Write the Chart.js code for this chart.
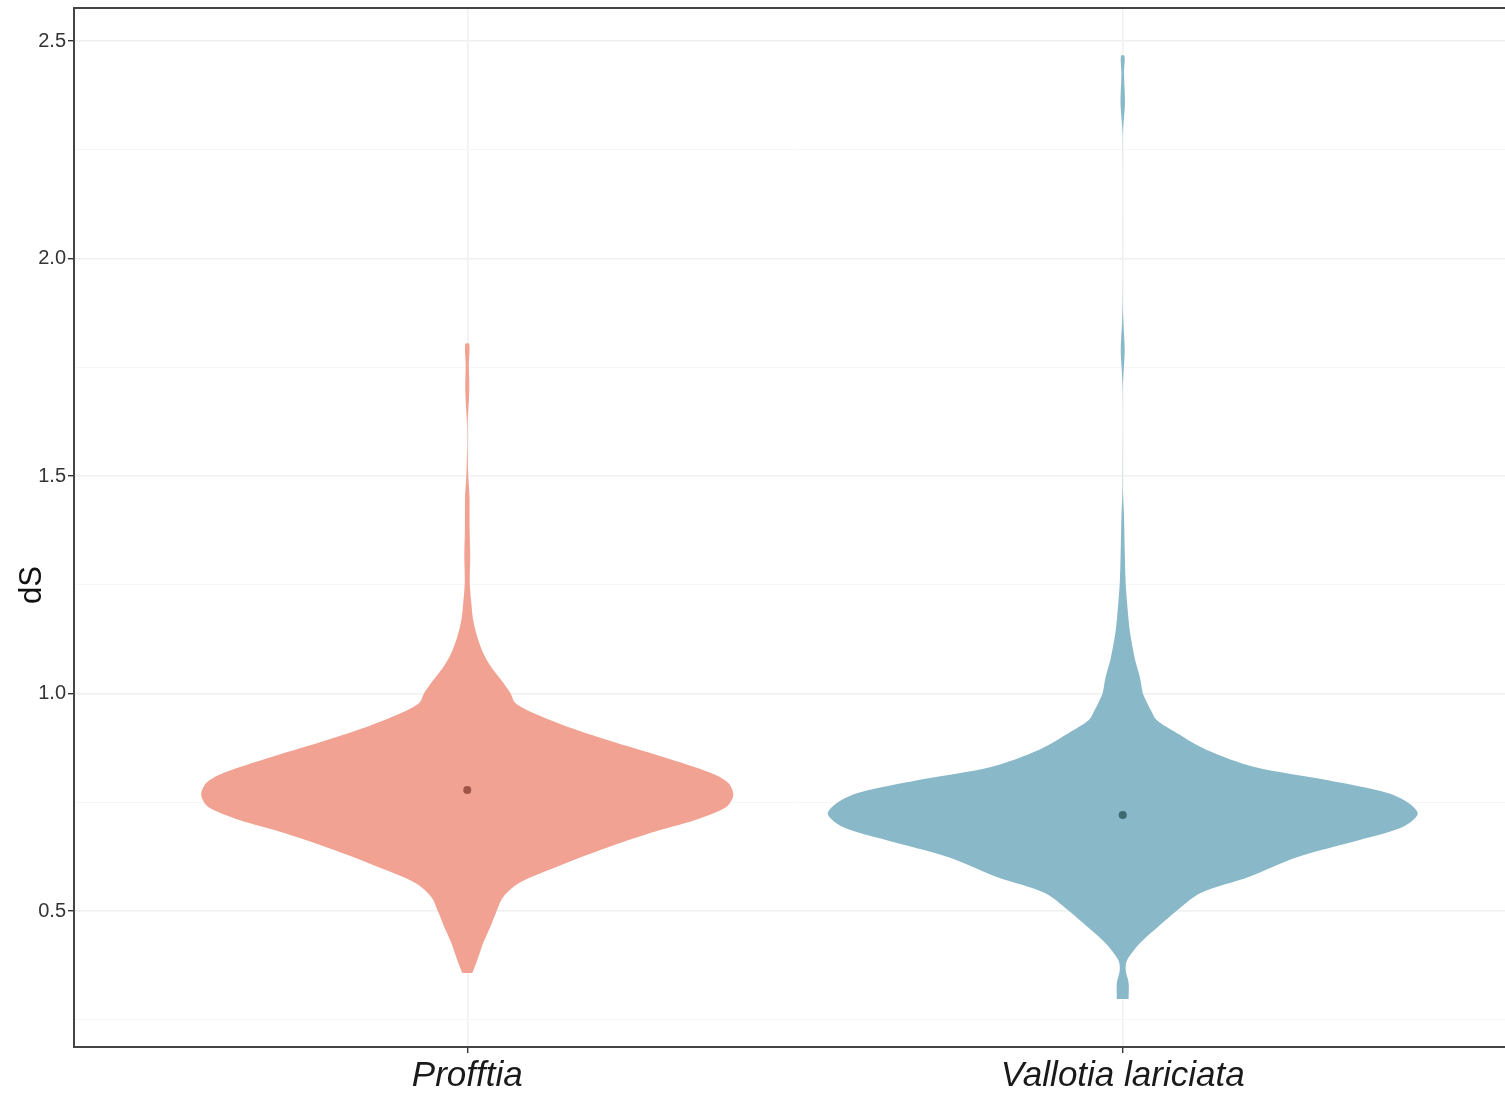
<!DOCTYPE html>
<html>
<head>
<meta charset="utf-8">
<title>dS violin</title>
<script src="https://cdn.jsdelivr.net/npm/chart.js@4.4.1/dist/chart.umd.min.js"></script>
<style>
  html, body { margin: 0; padding: 0; background: #fff; overflow: hidden; }
  #wrap { width: 1505px; height: 1094px; overflow: hidden; }
</style>
</head>
<body>
<div id="wrap"><canvas id="violin" width="1520" height="1094"></canvas></div>
<script>
// ---- data ----
const categories = ['Profftia', 'Vallotia lariciata'];

// dS levels (bottom -> top) and relative density (1 = widest violin)
const profftiaDS = [0.3575, 0.3874, 0.4264, 0.4632, 0.4954, 0.5322, 0.5644, 0.6011, 0.6402, 0.6793,
  0.7092, 0.7391, 0.7667, 0.7943, 0.8172, 0.8540, 0.8931, 0.9230, 0.9552, 0.9782,
  1.0011, 1.0310, 1.0609, 1.0931, 1.1299, 1.1690, 1.1989, 1.2540, 1.3138, 1.3759,
  1.4517, 1.4977, 1.5598, 1.6172, 1.6977, 1.7552, 1.8034];
const profftiaDensity = [0.017, 0.034, 0.054, 0.078, 0.097, 0.122, 0.176, 0.302, 0.451, 0.620,
  0.773, 0.878, 0.902, 0.885, 0.827, 0.664, 0.475, 0.342, 0.224, 0.163,
  0.146, 0.115, 0.081, 0.054, 0.034, 0.020, 0.015, 0.0085, 0.010, 0.008,
  0.0075, 0.0034, 0.001, 0.001, 0.0068, 0.0054, 0.0068];

const vallotiaDS = [0.2977, 0.3345, 0.3644, 0.3874, 0.4264, 0.4632, 0.5023, 0.5414, 0.5782, 0.6241,
  0.6632, 0.6931, 0.7230, 0.7483, 0.7713, 0.8011, 0.8310, 0.8701, 0.9092, 0.9391,
  0.9621, 0.9851, 1.0011, 1.0379, 1.0770, 1.1391, 1.1759, 1.2540, 1.3299, 1.4057,
  1.4609, 1.5138, 1.6977, 1.7368, 1.7897, 1.8517, 1.9046, 2.2793, 2.3023, 2.3575,
  2.4264, 2.4655];
const vallotiaDensity = [0.020, 0.020, 0.010, 0.015, 0.059, 0.119, 0.186, 0.264, 0.427, 0.593,
  0.803, 0.949, 1.000, 0.969, 0.898, 0.692, 0.447, 0.285, 0.183, 0.115,
  0.095, 0.078, 0.068, 0.058, 0.042, 0.025, 0.019, 0.010, 0.0068, 0.0044,
  0.001, 0.0003, 0.0003, 0.0027, 0.0068, 0.0024, 0.0003, 0.0003, 0.0017, 0.0075,
  0.0044, 0.006];

const meanDS = [0.778, 0.721];

const yMajorTicks = [0.5, 1.0, 1.5, 2.0, 2.5];
const yMinorTicks = [0.25, 0.75, 1.25, 1.75, 2.25];

// ---- settings ----
const Y_MIN = 0.1874, Y_MAX = 2.5759;
const X_MIN = 0.4, X_MAX = 2.6;
const VIOLIN_HALF = 0.45;
const FONT = "'Liberation Sans', Arial, Helvetica, sans-serif";

Chart.defaults.font.family = FONT;

const yGridTicks = yMajorTicks.concat(yMinorTicks).sort((a, b) => a - b);
const isMajor = v => yMajorTicks.includes(v);

function violinOutline(center, ds, dens) {
  const left = ds.map((v, i) => ({ x: center - dens[i] * VIOLIN_HALF, y: v }));
  const right = ds.map((v, i) => ({ x: center + dens[i] * VIOLIN_HALF, y: v })).reverse();
  return left.concat(right);
}

function violinSet(center, ds, dens, color) {
  return {
    type: 'scatter',
    data: violinOutline(center, ds, dens),
    showLine: true,
    fill: 'shape',
    backgroundColor: color,
    borderWidth: 0,
    pointRadius: 0,
    tension: 0.3,
    order: 2
  };
}

const xTicks = s => { s.ticks = categories.map((c, i) => ({ value: i + 1 })); };
const yTicks = s => { s.ticks = yGridTicks.map(v => ({ value: v })); };

// y title, placed a bit below the panel middle like the original
const yTitle = {
  id: 'yTitle',
  afterDraw(chart) {
    const ctx = chart.ctx;
    ctx.save();
    ctx.translate(32, 585);
    ctx.rotate(-Math.PI / 2);
    ctx.font = '31px ' + FONT;
    ctx.fillStyle = '#111';
    ctx.textAlign = 'center';
    ctx.textBaseline = 'middle';
    ctx.fillText('dS', 0, 0);
    ctx.restore();
  }
};

new Chart(document.getElementById('violin'), {
  type: 'scatter',
  data: {
    datasets: [
      violinSet(1, profftiaDS, profftiaDensity, '#F1A292'),
      violinSet(2, vallotiaDS, vallotiaDensity, '#89B8C8'),
      {
        type: 'scatter',
        data: meanDS.map((v, i) => ({ x: i + 1, y: v })),
        pointRadius: 4,
        pointBackgroundColor: ['#9E5446', '#3C6A70'],
        pointBorderWidth: 0,
        order: 1
      }
    ]
  },
  options: {
    responsive: false,
    animation: false,
    layout: { padding: { top: 8, right: 2, left: 0, bottom: 0 } },
    plugins: { legend: { display: false }, tooltip: { enabled: false } },
    scales: {
      x: {
        type: 'linear', position: 'bottom', min: X_MIN, max: X_MAX,
        afterBuildTicks: xTicks,
        afterFit: s => { s.height = 47; s.paddingLeft = 0; s.paddingRight = 0; },
        ticks: {
          callback: v => categories[v - 1],
          font: { size: 35, style: 'italic' }, color: '#1a1a1a',
          padding: 2, maxRotation: 0, autoSkip: false
        },
        grid: { color: '#EBEBEB', lineWidth: 1.4, tickColor: '#333', tickLength: 6 },
        border: { display: true, color: '#444', width: 2 }
      },
      y: {
        type: 'linear', position: 'left', min: Y_MIN, max: Y_MAX,
        afterBuildTicks: yTicks,
        afterFit: s => { s.width = 74; s.paddingTop = 0; s.paddingBottom = 0; },
        ticks: {
          callback: v => isMajor(v) ? v.toFixed(1) : '',
          font: { size: 20 }, color: '#333', padding: 2, autoSkip: false
        },
        grid: {
          color: ctx => isMajor(ctx.tick.value) ? '#EBEBEB' : '#F3F3F3',
          lineWidth: ctx => isMajor(ctx.tick.value) ? 1.4 : 0.9,
          tickColor: ctx => isMajor(ctx.tick.value) ? '#333' : 'rgba(0,0,0,0)',
          tickLength: 6
        },
        border: { display: true, color: '#444', width: 2 }
      },
      // light grid drawn over the violins, plus the top panel border
      xOver: {
        type: 'linear', position: 'top', min: X_MIN, max: X_MAX, z: 1,
        afterBuildTicks: xTicks,
        afterFit: s => { s.height = 0; s.paddingLeft = 0; s.paddingRight = 0; },
        ticks: { display: false },
        grid: { color: 'rgba(255,255,255,0.25)', lineWidth: 1.4, drawTicks: false },
        border: { display: true, color: '#444', width: 2 }
      },
      yOver: {
        type: 'linear', position: 'right', min: Y_MIN, max: Y_MAX, z: 1,
        afterBuildTicks: yTicks,
        afterFit: s => { s.width = 0; s.paddingTop = 0; s.paddingBottom = 0; },
        ticks: { display: false },
        grid: {
          color: ctx => isMajor(ctx.tick.value) ? 'rgba(255,255,255,0.25)' : 'rgba(255,255,255,0.18)',
          lineWidth: ctx => isMajor(ctx.tick.value) ? 1.4 : 0.9,
          drawTicks: false
        },
        border: { display: false }
      }
    }
  },
  plugins: [yTitle]
});
</script>
</body>
</html>
